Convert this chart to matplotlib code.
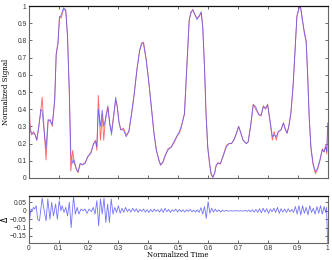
import matplotlib
matplotlib.use("Agg")
import matplotlib.pyplot as plt

# top panel: time, filtered (blue) and raw (red) signal
t_sig = [0.000, 0.005, 0.010, 0.016, 0.022, 0.027, 0.034, 0.041, 0.045, 0.050,
         0.055, 0.058, 0.065, 0.072, 0.079, 0.087, 0.092, 0.098, 0.103, 0.109,
         0.117, 0.124, 0.130, 0.136, 0.141, 0.147, 0.152, 0.160, 0.165, 0.172,
         0.180, 0.189, 0.197, 0.208, 0.217, 0.224, 0.228, 0.233, 0.240, 0.246,
         0.251, 0.257, 0.265, 0.271, 0.277, 0.283, 0.291, 0.296, 0.302, 0.308,
         0.317, 0.326, 0.335, 0.344, 0.353, 0.362, 0.371, 0.378, 0.384, 0.393,
         0.401, 0.410, 0.419, 0.427, 0.435, 0.441, 0.449, 0.457, 0.466, 0.477,
         0.488, 0.498, 0.504, 0.510, 0.515, 0.521, 0.526, 0.532, 0.537, 0.543,
         0.549, 0.555, 0.563, 0.571, 0.577, 0.582, 0.588, 0.593, 0.599, 0.605,
         0.610, 0.616, 0.622, 0.627, 0.633, 0.641, 0.650, 0.661, 0.670, 0.678,
         0.686, 0.695, 0.702, 0.708, 0.717, 0.728, 0.734, 0.742, 0.751, 0.759,
         0.770, 0.777, 0.785, 0.792, 0.799, 0.807, 0.815, 0.821, 0.828, 0.835,
         0.844, 0.852, 0.857, 0.864, 0.870, 0.877, 0.884, 0.891, 0.897, 0.904,
         0.909, 0.915, 0.922, 0.928, 0.933, 0.938, 0.944, 0.951, 0.959, 0.966,
         0.974, 0.982, 0.988, 0.993, 0.997, 1.000]

blue = [0.40, 0.27, 0.26, 0.26, 0.25, 0.22, 0.30, 0.40, 0.39, 0.30,
        0.22, 0.17, 0.34, 0.33, 0.31, 0.45, 0.72, 0.78, 0.93, 0.95,
        0.99, 0.97, 0.82, 0.49, 0.14, 0.085, 0.105, 0.047, 0.037, 0.085,
        0.076, 0.085, 0.124, 0.143, 0.20, 0.21, 0.18, 0.40, 0.30, 0.395,
        0.30, 0.34, 0.41, 0.32, 0.25, 0.34, 0.47, 0.415, 0.32, 0.28,
        0.28, 0.24, 0.27, 0.375, 0.49, 0.63, 0.74, 0.787, 0.78, 0.686,
        0.57, 0.415, 0.26, 0.163, 0.105, 0.076, 0.095, 0.134, 0.163, 0.18,
        0.22, 0.25, 0.27, 0.30, 0.33, 0.376, 0.55, 0.76, 0.92, 0.967,
        0.977, 0.957, 0.92, 0.947, 0.967, 0.88, 0.647, 0.376, 0.18, 0.085,
        0.027, 0.004, 0.027, 0.076, 0.085, 0.085, 0.124, 0.18, 0.20, 0.20,
        0.22, 0.26, 0.30, 0.27, 0.22, 0.20, 0.21, 0.30, 0.425, 0.415,
        0.366, 0.366, 0.415, 0.405, 0.425, 0.337, 0.24, 0.25, 0.24, 0.27,
        0.28, 0.32, 0.29, 0.26, 0.30, 0.376, 0.53, 0.744, 0.938, 0.986,
        0.996, 0.93, 0.84, 0.79, 0.60, 0.357, 0.18, 0.085, 0.037, 0.056,
        0.105, 0.163, 0.153, 0.18, 0.153, 0.32]

red = [0.51, 0.30, 0.25, 0.27, 0.25, 0.22, 0.30, 0.40, 0.47, 0.33,
       0.18, 0.105, 0.33, 0.34, 0.30, 0.46, 0.72, 0.79, 0.94, 0.93,
       0.985, 0.98, 0.82, 0.49, 0.04, 0.16, 0.09, 0.05, 0.03, 0.08,
       0.08, 0.09, 0.12, 0.15, 0.20, 0.22, 0.16, 0.48, 0.22, 0.37,
       0.22, 0.35, 0.42, 0.31, 0.27, 0.35, 0.45, 0.42, 0.33, 0.28,
       0.29, 0.25, 0.27, 0.37, 0.49, 0.63, 0.74, 0.78, 0.79, 0.69,
       0.57, 0.42, 0.26, 0.16, 0.11, 0.075, 0.09, 0.13, 0.17, 0.18,
       0.21, 0.25, 0.26, 0.29, 0.33, 0.37, 0.55, 0.76, 0.92, 0.96,
       0.98, 0.95, 0.93, 0.94, 0.96, 0.88, 0.65, 0.38, 0.17, 0.08,
       0.02, 0.004, 0.03, 0.07, 0.09, 0.08, 0.13, 0.19, 0.20, 0.20,
       0.22, 0.26, 0.30, 0.27, 0.22, 0.20, 0.21, 0.30, 0.43, 0.40,
       0.37, 0.36, 0.42, 0.40, 0.43, 0.33, 0.22, 0.27, 0.22, 0.27,
       0.28, 0.32, 0.29, 0.26, 0.30, 0.38, 0.53, 0.74, 0.94, 0.99,
       1.00, 0.92, 0.85, 0.80, 0.60, 0.36, 0.17, 0.08, 0.025, 0.05,
       0.10, 0.17, 0.15, 0.19, 0.14, 0.30]

# bottom panel: residual
t_res = [0.000, 0.004, 0.008, 0.012, 0.016, 0.020, 0.025, 0.030, 0.036, 0.045,
         0.052, 0.058, 0.064, 0.071, 0.077, 0.083, 0.090, 0.096, 0.102, 0.108,
         0.112, 0.118, 0.124, 0.130, 0.136, 0.142, 0.150, 0.156, 0.162, 0.168,
         0.175, 0.182, 0.188, 0.195, 0.202, 0.210, 0.216, 0.222, 0.228, 0.234,
         0.240, 0.246, 0.252, 0.258, 0.264, 0.270, 0.276, 0.282, 0.288, 0.294,
         0.300, 0.306, 0.312, 0.318, 0.324, 0.330, 0.336, 0.342, 0.348, 0.354,
         0.360, 0.366, 0.372, 0.378, 0.384, 0.390, 0.396, 0.402, 0.408, 0.414,
         0.420, 0.426, 0.432, 0.438, 0.444, 0.450, 0.456, 0.462, 0.468, 0.474,
         0.480, 0.486, 0.492, 0.498, 0.504, 0.510, 0.516, 0.522, 0.528, 0.534,
         0.540, 0.546, 0.552, 0.558, 0.564, 0.570, 0.576, 0.582, 0.588, 0.594,
         0.600, 0.606, 0.612, 0.618, 0.624, 0.630, 0.636, 0.642, 0.648, 0.654,
         0.660, 0.668, 0.676, 0.684, 0.692, 0.700, 0.708, 0.716, 0.724, 0.730,
         0.736, 0.742, 0.748, 0.754, 0.760, 0.766, 0.772, 0.778, 0.784, 0.790,
         0.796, 0.802, 0.808, 0.814, 0.820, 0.826, 0.832, 0.838, 0.844, 0.850,
         0.856, 0.862, 0.868, 0.874, 0.880, 0.886, 0.892, 0.898, 0.904, 0.910,
         0.916, 0.922, 0.928, 0.934, 0.940, 0.946, 0.952, 0.958, 0.964, 0.970,
         0.976, 0.982, 0.988, 0.993, 0.996, 1.000]

resid = [0.080, -0.040, 0.010, 0.000, 0.020, 0.010, 0.030, -0.050, -0.060, 0.075,
         0.000, -0.060, 0.070, -0.050, 0.050, -0.030, 0.040, -0.050, 0.060, 0.000,
         0.030, -0.010, 0.020, -0.030, 0.050, -0.100, 0.085, -0.020, 0.020, -0.020,
         0.010, 0.000, 0.010, -0.015, 0.010, -0.005, 0.020, -0.020, 0.060, -0.090,
         0.070, -0.020, 0.075, -0.070, 0.040, -0.070, 0.070, -0.020, 0.020, -0.010,
         0.030, -0.015, 0.015, -0.010, 0.020, -0.005, 0.010, -0.008, 0.015, -0.005,
         0.012, -0.010, 0.008, -0.004, 0.010, -0.008, 0.006, -0.010, 0.008, -0.006,
         0.010, -0.004, 0.006, -0.008, 0.012, -0.010, 0.015, -0.006, 0.008, -0.010,
         0.006, -0.004, 0.010, -0.008, 0.008, -0.006, 0.006, -0.008, 0.006, -0.004,
         0.008, -0.006, 0.004, -0.008, 0.006, -0.010, 0.018, -0.020, 0.025, -0.045,
         0.055, -0.015, 0.015, -0.008, 0.010, -0.006, 0.006, -0.008, 0.004, -0.004,
         0.002, -0.002, 0.000, -0.002, 0.001, -0.002, 0.000, -0.002, 0.002, -0.004,
         0.004, -0.006, 0.006, -0.008, 0.008, -0.010, 0.012, -0.012, 0.015, -0.008,
         0.012, -0.015, 0.010, -0.006, 0.015, -0.010, 0.020, -0.015, 0.012, -0.008,
         0.010, -0.010, 0.012, -0.006, 0.008, -0.010, 0.025, -0.020, 0.030, -0.025,
         0.030, -0.015, 0.020, -0.025, 0.030, -0.010, 0.015, -0.020, 0.025, -0.015,
         0.030, -0.020, 0.025, -0.010, 0.020, -0.190]

x_ticks = [0, 0.1, 0.2, 0.3, 0.4, 0.5, 0.6, 0.7, 0.8, 0.9, 1]
x_ticklabels = ["0", "0.1", "0.2", "0.3", "0.4", "0.5", "0.6", "0.7", "0.8", "0.9", "1"]
y_ticks = [0, 0.1, 0.2, 0.3, 0.4, 0.5, 0.6, 0.7, 0.8, 0.9, 1]
y_ticklabels = ["0", "0.1", "0.2", "0.3", "0.4", "0.5", "0.6", "0.7", "0.8", "0.9", "1"]
res_ticks = [-0.15, -0.1, -0.05, 0, 0.05]
res_ticklabels = ["\u22120.15", "\u22120.1", "\u22120.05", "0", "0.05"]

RED = "#ff5050"
BLUE = "#5a5aff"
TICK_FONT = "Liberation Sans"
LABEL_FONT = "DejaVu Serif"


def style_axes(ax):
    ax.tick_params(direction="in", length=2.5, width=0.5, top=True, right=True,
                   labelsize=4.8, pad=1.5, colors="#333333")
    for lab in ax.get_xticklabels() + ax.get_yticklabels():
        lab.set_fontfamily(TICK_FONT)
    for side in ["left", "right", "bottom"]:
        ax.spines[side].set_color("#666666")
        ax.spines[side].set_linewidth(0.8)
    ax.spines["top"].set_color("#111111")
    ax.spines["top"].set_linewidth(0.9)


fig = plt.figure(figsize=(3.32, 2.6), dpi=100)

ax1 = fig.add_axes([0.0864, 0.3154, 0.9006, 0.6615])
ax1.plot(t_sig, red, color=RED, lw=0.65, alpha=0.85)
ax1.plot(t_sig, blue, color=BLUE, lw=0.65, alpha=0.8)
ax1.set_xlim(0, 1)
ax1.set_ylim(0, 1)
ax1.set_xticks(x_ticks)
ax1.set_xticklabels([])
ax1.set_yticks(y_ticks)
ax1.set_yticklabels(y_ticklabels)
ax1.set_ylabel("Normalized Signal", fontsize=5, family=LABEL_FONT)
ax1.yaxis.set_label_coords(-0.061, 0.5)
style_axes(ax1)

ax2 = fig.add_axes([0.0864, 0.0665, 0.9006, 0.1795])
ax2.plot(t_res, resid, color=BLUE, lw=0.6, alpha=0.85)
ax2.set_xlim(0, 1)
ax2.set_ylim(-0.19, 0.0875)
ax2.set_xticks(x_ticks)
ax2.set_xticklabels(x_ticklabels)
ax2.set_yticks(res_ticks)
ax2.set_yticklabels(res_ticklabels)
ax2.set_ylabel(r"$\Delta$", fontsize=5.5)
ax2.yaxis.set_label_coords(-0.061, 0.5)
ax2.set_xlabel("Normalized Time", fontsize=5, family=LABEL_FONT)
ax2.xaxis.set_label_coords(0.5, -0.17)
style_axes(ax2)

fig.savefig("out.png", dpi=100)
